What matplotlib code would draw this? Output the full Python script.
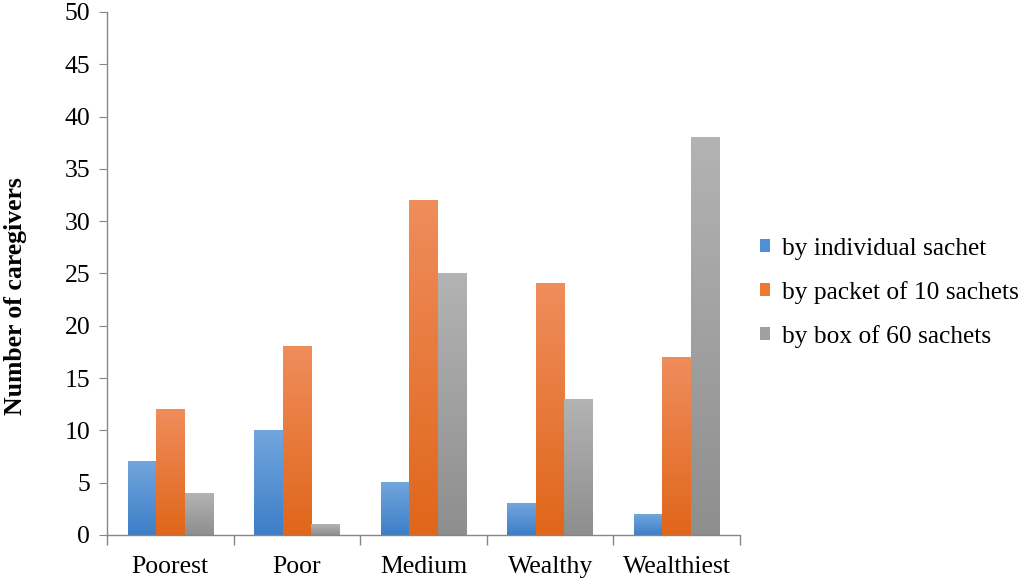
import numpy as np
import matplotlib
matplotlib.use('Agg')
import matplotlib.pyplot as plt
from matplotlib.colors import LinearSegmentedColormap
from matplotlib.patches import Patch

plt.rcParams['font.family'] = ['Liberation Serif', 'DejaVu Serif']

groups = ['Poorest', 'Poor', 'Medium', 'Wealthy', 'Wealthiest']
series = ['by individual sachet', 'by packet of 10 sachets', 'by box of 60 sachets']
individual = [7, 10, 5, 3, 2]
packet = [12, 18, 32, 24, 17]
box = [4, 1, 25, 13, 38]

# top colour, bottom colour for each series (Excel-like gradient)
grads = [('#72a6dd', '#3d7ec8'), ('#ef8d5c', '#e0661a'), ('#b3b3b3', '#8e8e8e')]
solid = ['#4f8fd6', '#ee7a30', '#a0a0a0']

fig = plt.figure(figsize=(10.24, 5.82), dpi=100)
ax = fig.add_axes([0.1045, 0.0808, 0.6182, 0.8986])

x = np.arange(len(groups))
w = 0.225
for i, vals in enumerate([individual, packet, box]):
    cmap = LinearSegmentedColormap.from_list('g%d' % i, [grads[i][1], grads[i][0]])
    grad = np.linspace(0, 1, 256).reshape(-1, 1)
    for xi, v in zip(x, vals):
        left = xi + (i - 1) * w - w / 2
        ax.imshow(grad, cmap=cmap, origin='lower', aspect='auto',
                  extent=[left, left + w, 0, v], zorder=2, interpolation='bilinear')

ax.set_xlim(-0.5, len(groups) - 0.5)
ax.set_ylim(0, 50)
ax.set_yticks(np.arange(0, 51, 5))
ax.set_xticks(x)
ax.set_xticklabels(groups)
ax.set_xticks(np.arange(-0.5, len(groups), 1), minor=True)
ax.tick_params(axis='x', which='major', length=0, labelsize=18.5, pad=15)
ax.tick_params(axis='x', which='minor', length=7, color='#868686', width=1)
ax.tick_params(axis='y', length=6, color='#868686', labelsize=18.5, pad=6)

for s in ['top', 'right']:
    ax.spines[s].set_visible(False)
for s in ['left', 'bottom']:
    ax.spines[s].set_color('#868686')
    ax.spines[s].set_linewidth(1)

ax.set_ylabel('Number of caregivers', fontsize=18.5, fontweight='bold')
ax.yaxis.set_label_coords(-0.127, 0.457)

handles = [Patch(facecolor=solid[i], edgecolor='none') for i in range(3)]
fig.legend(handles, series, loc='center left', bbox_to_anchor=(0.72, 0.497),
           frameon=False, fontsize=18.3, handlelength=0.4, handleheight=0.4,
           handletextpad=0.45, labelspacing=0.82)

fig.savefig('out.png', dpi=100)
